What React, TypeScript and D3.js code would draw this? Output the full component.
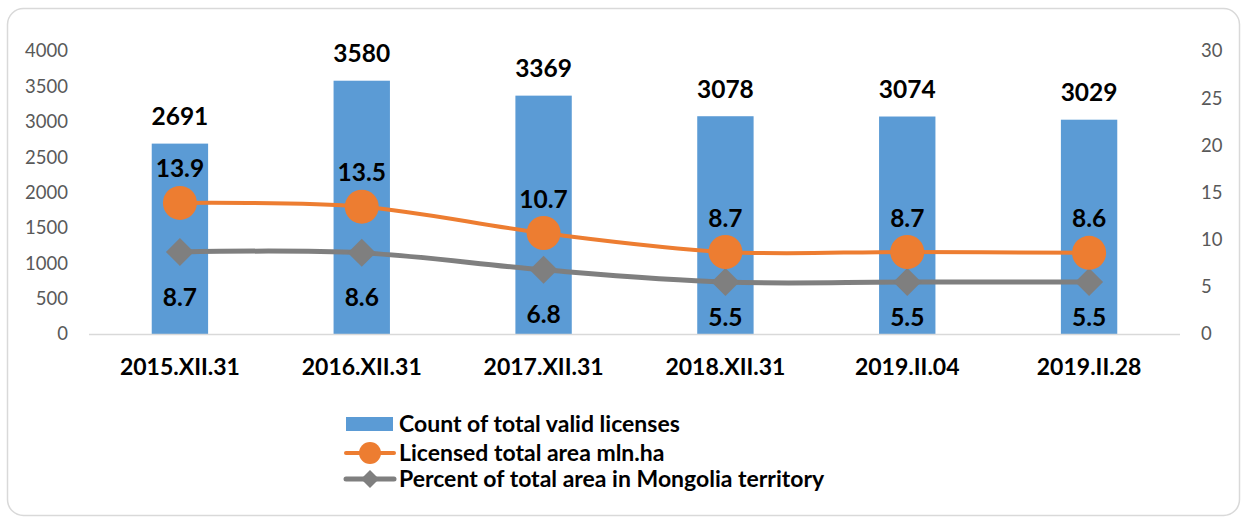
import { useMemo } from "react";
import * as d3 from "d3";

const WIDTH = 1243;
const HEIGHT = 521;
const MARGIN = { top: 51, right: 63, bottom: 187, left: 89 };

const categories = ["2015.XII.31", "2016.XII.31", "2017.XII.31", "2018.XII.31", "2019.II.04", "2019.II.28"];
const licenseCounts = [2691, 3580, 3369, 3078, 3074, 3029];
const licensedArea = [13.9, 13.5, 10.7, 8.7, 8.7, 8.6];
const territoryPercent = [8.7, 8.6, 6.8, 5.5, 5.5, 5.5];
const leftTicks = [0, 500, 1000, 1500, 2000, 2500, 3000, 3500, 4000];
const rightTicks = [0, 5, 10, 15, 20, 25, 30];

const seriesNames = [
  "Count of total valid licenses",
  "Licensed total area mln.ha",
  "Percent of total area in Mongolia territory",
];

const BLUE = "#5B9BD5";
const ORANGE = "#ED7D31";
const GREY = "#7F7F7F";
const FONT = "Lato, 'Open Sans', sans-serif";

const App = () => {
  const boundsWidth = WIDTH - MARGIN.left - MARGIN.right;
  const boundsHeight = HEIGHT - MARGIN.top - MARGIN.bottom;

  const xScale = useMemo(
    () =>
      d3.scaleBand<string>()
        .domain(categories)
        .range([0, boundsWidth])
        .paddingInner(0.69)
        .paddingOuter(0.345),
    [boundsWidth]
  );
  const yLeft = useMemo(() => d3.scaleLinear().domain([0, 4000]).range([boundsHeight, 0]), [boundsHeight]);
  const yRight = useMemo(() => d3.scaleLinear().domain([0, 30]).range([boundsHeight, 0]), [boundsHeight]);

  const cx = (c: string) => (xScale(c) ?? 0) + xScale.bandwidth() / 2;

  // Excel-style smoothed lines
  const lineGen = (vals: number[]) =>
    d3.line<number>()
      .x((_, i) => cx(categories[i]))
      .y((v) => yRight(v))
      .curve(d3.curveCatmullRom.alpha(0.5))(vals) ?? "";

  const diamond = (x: number, y: number, r: number) =>
    `M${x},${y - r}L${x + r},${y}L${x},${y + r}L${x - r},${y}Z`;

  return (
    <svg
      width={WIDTH}
      height={HEIGHT}
      style={{ position: "absolute", left: 0, top: 0, fontFamily: FONT }}
    >
      <rect x={0} y={0} width={WIDTH} height={HEIGHT} fill="#fff" />
      <rect x={7.5} y={8.5} width={1232} height={507} rx={16} fill="#fff" stroke="#d9d9d9" strokeWidth={1.5} />

      <g transform={`translate(${MARGIN.left},${MARGIN.top})`}>
        {/* left axis */}
        {leftTicks.map((t) => (
          <text key={"l" + t} x={-21} y={yLeft(t)} dy="0.35em" textAnchor="end" fontSize={18.5} fill="#595959">
            {t}
          </text>
        ))}
        {/* right axis */}
        {rightTicks.map((t) => (
          <text key={"r" + t} x={boundsWidth + 21} y={yRight(t)} dy="0.35em" textAnchor="start" fontSize={18.5} fill="#595959">
            {t}
          </text>
        ))}

        {/* bars */}
        {licenseCounts.map((v, i) => (
          <rect
            key={"b" + i}
            x={xScale(categories[i])}
            y={yLeft(v)}
            width={xScale.bandwidth()}
            height={boundsHeight - yLeft(v)}
            fill={BLUE}
          />
        ))}

        <line x1={0} x2={boundsWidth} y1={boundsHeight + 0.5} y2={boundsHeight + 0.5} stroke="#d9d9d9" strokeWidth={1.5} />

        {/* x labels */}
        {categories.map((c) => (
          <text key={"x" + c} x={cx(c)} y={boundsHeight + 33} dy="0.35em" textAnchor="middle" fontSize={23} fontWeight="bold" fill="#000">
            {c}
          </text>
        ))}

        {/* lines */}
        <path d={lineGen(territoryPercent)} fill="none" stroke={GREY} strokeWidth={5} strokeLinecap="round" />
        <path d={lineGen(licensedArea)} fill="none" stroke={ORANGE} strokeWidth={4} strokeLinecap="round" />

        {territoryPercent.map((v, i) => (
          <path key={"d" + i} d={diamond(cx(categories[i]), yRight(v), 14)} fill={GREY} />
        ))}
        {licensedArea.map((v, i) => (
          <circle key={"c" + i} cx={cx(categories[i])} cy={yRight(v)} r={17} fill={ORANGE} />
        ))}

        {/* data labels */}
        {licenseCounts.map((v, i) => (
          <text key={"bl" + i} x={cx(categories[i])} y={yLeft(v) - 27} dy="0.35em" textAnchor="middle" fontSize={24.5} fontWeight="bold" fill="#000">
            {v}
          </text>
        ))}
        {licensedArea.map((v, i) => (
          <text key={"ol" + i} x={cx(categories[i])} y={yRight(v) - 34} dy="0.35em" textAnchor="middle" fontSize={24.5} fontWeight="bold" fill="#000">
            {v}
          </text>
        ))}
        {territoryPercent.map((v, i) => (
          <text
            key={"gl" + i}
            x={cx(categories[i])}
            y={Math.min(yRight(v) + 45, boundsHeight - 17)}
            dy="0.35em"
            textAnchor="middle"
            fontSize={24.5}
            fontWeight="bold"
            fill="#000"
          >
            {v}
          </text>
        ))}
      </g>

      {/* legend */}
      <g transform="translate(346,0)">
        <rect x={0} y={417} width={47} height={14} fill={BLUE} />
        <text x={53} y={424} dy="0.35em" fontSize={23} fontWeight="bold" fill="#000">{seriesNames[0]}</text>

        <line x1={0} x2={48} y1={453} y2={453} stroke={ORANGE} strokeWidth={4} strokeLinecap="round" />
        <circle cx={24} cy={453} r={11} fill={ORANGE} />
        <text x={53} y={453} dy="0.35em" fontSize={23} fontWeight="bold" fill="#000">{seriesNames[1]}</text>

        <line x1={0} x2={48} y1={479} y2={479} stroke={GREY} strokeWidth={5} strokeLinecap="round" />
        <path d={diamond(24, 479, 9)} fill={GREY} />
        <text x={53} y={479} dy="0.35em" fontSize={23} fontWeight="bold" fill="#000">{seriesNames[2]}</text>
      </g>
    </svg>
  );
};

export default App;
